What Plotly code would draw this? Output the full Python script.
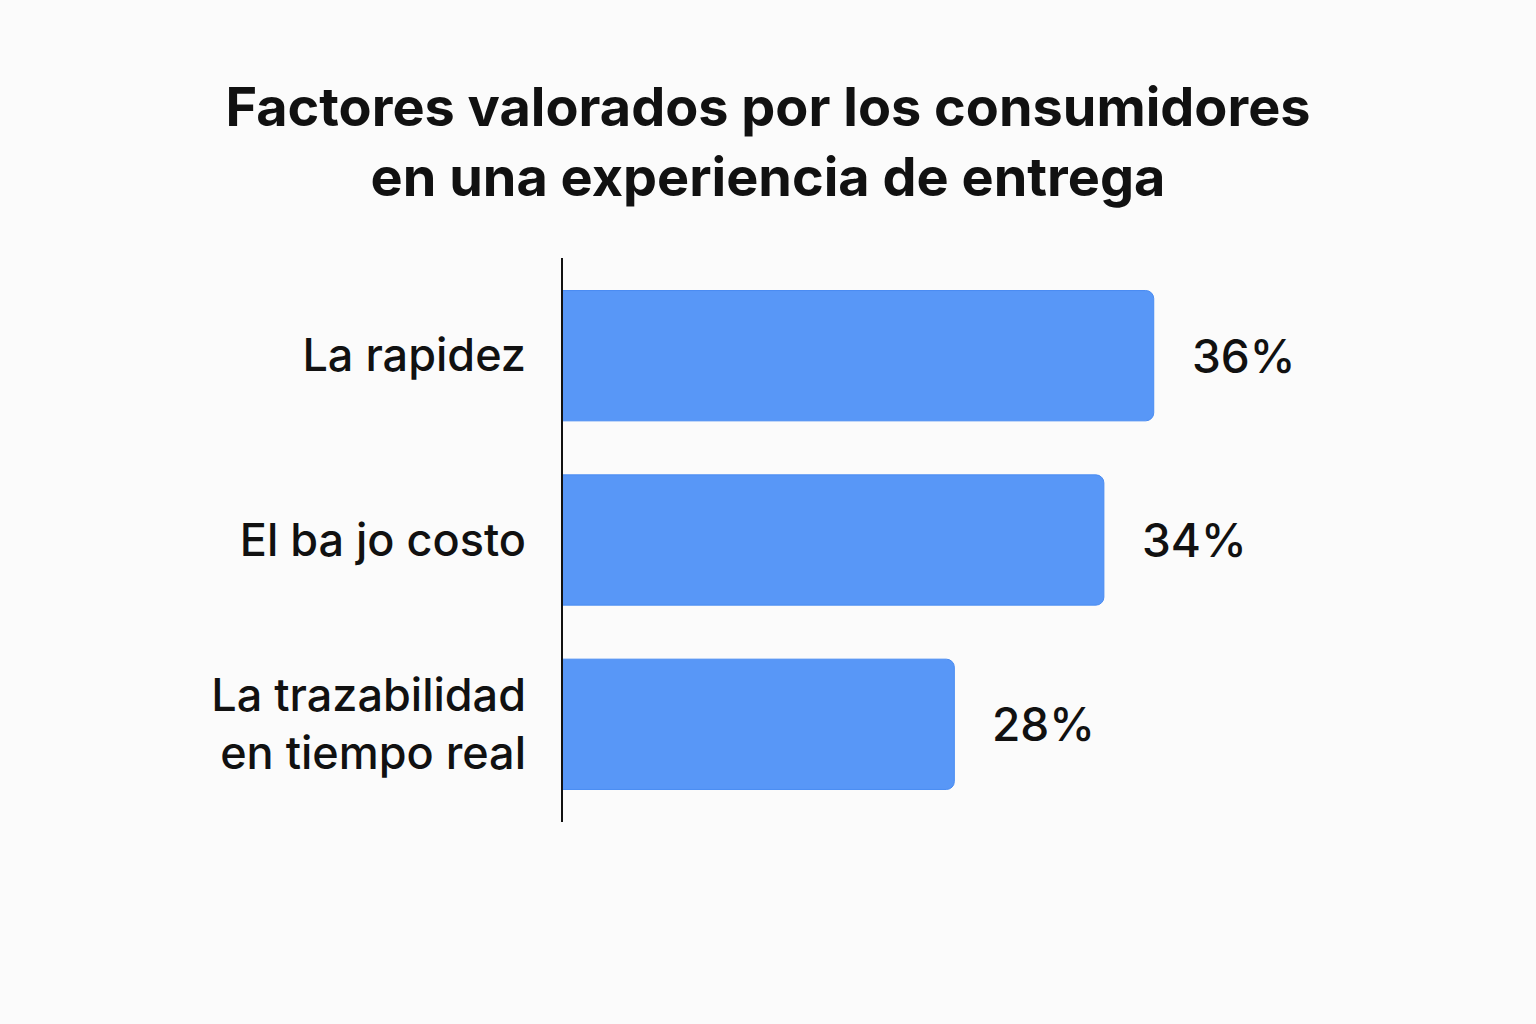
import plotly.graph_objects as go

categories = ["La rapidez", "El ba jo costo", "La trazabilidad<br>en tiempo real"]
values = [36, 34, 28]
value_labels = ["36%", "34%", "28%"]
title_text = "Factores valorados por los consumidores<br>en una experiencia de entrega"

FONT = "Inter"
BAR_COLOR = "#5897F7"
BG = "#FBFBFB"

fig = go.Figure()
fig.add_trace(go.Bar(
    x=values,
    y=categories,
    orientation="h",
    marker=dict(color=BAR_COLOR, line=dict(color="#4A8CF2", width=1)),
    hoverinfo="skip",
))

for v, c, t in zip(values, categories, value_labels):
    fig.add_annotation(
        x=v, y=c, text=t, showarrow=False,
        xanchor="left", yanchor="middle", xshift=36,
        font=dict(family=FONT, size=46, color="#111111", weight=500),
    )

fig.update_layout(
    width=1536, height=1024,
    paper_bgcolor=BG, plot_bgcolor=BG,
    margin=dict(l=563, r=133, t=258, b=202),
    barcornerradius=8,
    bargap=0.293,
    showlegend=False,
    title=dict(
        text=title_text,
        x=0.5, xref="container", xanchor="center",
        y=1 - 126 / 1024, yref="container", yanchor="top",
        font=dict(family=FONT, size=54, color="#111111", weight="bold"),
    ),
    xaxis=dict(range=[12.3, 46], visible=False, fixedrange=True),
    yaxis=dict(
        autorange=False, range=[2.53, -0.53],
        showline=True, linecolor="#111111", linewidth=2,
        ticks="", showgrid=False, zeroline=False, fixedrange=True,
        tickfont=dict(family=FONT, size=45, color="#111111", weight=500),
        ticklabelstandoff=26,
    ),
)

fig.write_html(
    "out.html",
    config={"displayModeBar": False},
    post_script="document.body.style.margin='0';document.body.style.background='%s';" % BG,
)
